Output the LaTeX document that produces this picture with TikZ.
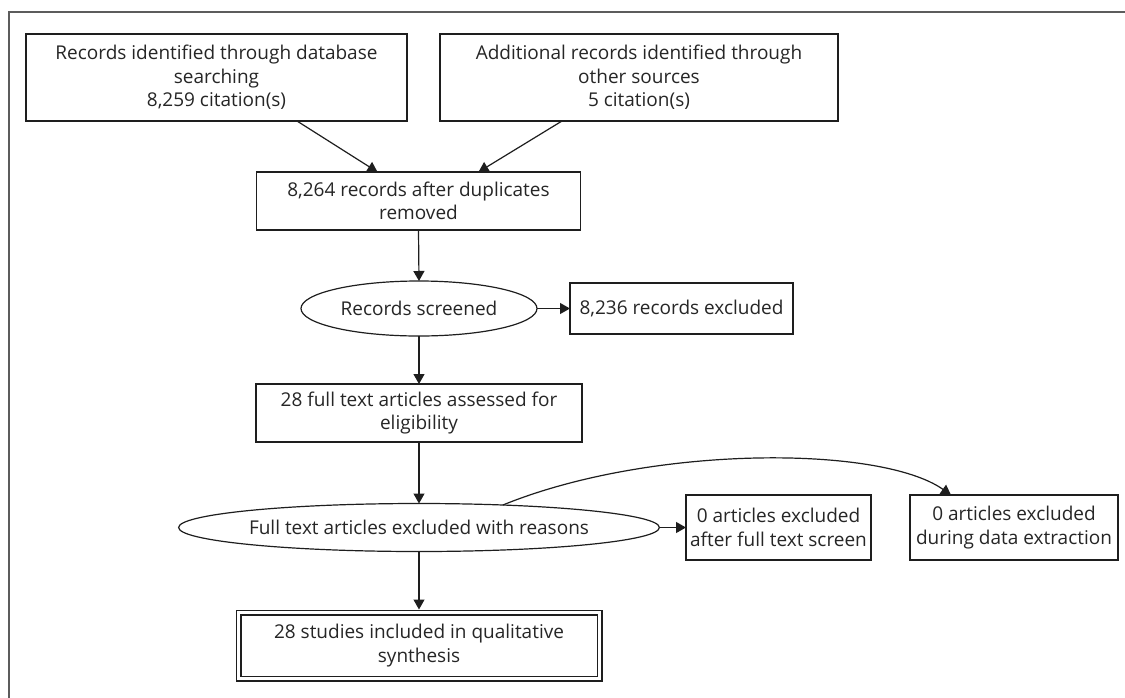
\documentclass[tikz,border=0pt]{standalone}
\usepackage{fontspec}
\setmainfont{Open Sans}
\usetikzlibrary{shapes.geometric,arrows.meta}
\definecolor{linec}{HTML}{1E1E1E}
\definecolor{framec}{HTML}{5C5C5C}
\definecolor{textc}{HTML}{262626}
\newcommand\fs{\fontsize{19}{23.5}\selectfont}
\tikzset{
  box/.style={draw=linec, line width=1.2pt, rectangle, align=center, inner sep=0pt, outer sep=0pt, font=\fs, text=textc},
  oval/.style={draw=linec, line width=1.2pt, ellipse, align=center, inner sep=0pt, outer sep=0pt, font=\fs, text=textc},
  arr/.style={draw=linec, line width=1.2pt, -{Triangle[length=10pt,width=11pt]}},
}
\begin{document}
\begin{tikzpicture}[x=1pt,y=-1pt]
\useasboundingbox (0,0) rectangle (1125,697);
\fill[white] (0,0) rectangle (1125,697);
\draw[framec, line width=2pt] (1126,11.7) -- (9.3,11.7) -- (9.3,698);

\node[box, minimum width=381pt, minimum height=87pt] (A) at (216.5,77.5)
  {Records identified through database\\searching\\8,259 citation(s)};
\node[box, minimum width=398pt, minimum height=87pt] (B) at (639,77.5)
  {Additional records identified through\\other sources\\5 citation(s)};
\node[box, minimum width=324pt, minimum height=58pt] (C) at (418.5,201)
  {8,264 records after duplicates\\removed};
\node[oval, minimum width=236pt, minimum height=55pt] (RS) at (419,308.5)
  {Records screened};
\node[box, minimum width=223pt, minimum height=51pt] (X) at (681.5,308.5)
  {8,236 records excluded};
\node[box, minimum width=326pt, minimum height=58pt] (D) at (419,413)
  {28 full text articles assessed for\\eligibility};
\node[oval, minimum width=464pt, minimum height=48pt] (FT) at (419,527.5)
  {Full text articles excluded with reasons};
\node[box, minimum width=185pt, minimum height=65pt] (E) at (778.5,527.5)
  {0 articles excluded\\after full text screen};
\node[box, minimum width=208pt, minimum height=65pt] (F) at (1014,527.5)
  {0 articles excluded\\during data extraction};
\node[box, double, double distance=3.6pt, outer sep=3pt, minimum width=361pt, minimum height=66pt] (G) at (419,645.5)
  {28 studies included in qualitative\\synthesis};

\draw[arr] ([xshift=80.5pt]A.south) -- ([xshift=-41pt]C.north);
\draw[arr] ([xshift=-77pt]B.south) -- ([xshift=60pt]C.north);
\draw[arr] (C.south) -- (RS.north);
\draw[arr] (RS.east) -- (X.west);
\draw[arr] (RS.south) -- (D.north);
\draw[arr] (D.south) -- (FT.north);
\draw[arr] (FT.east) -- (E.west);
\draw[arr] (FT.south) -- (G.north);
\draw[arr] (FT.15) .. controls (650,445) and (880,445) .. ([xshift=-63pt]F.north);
\end{tikzpicture}
\end{document}
